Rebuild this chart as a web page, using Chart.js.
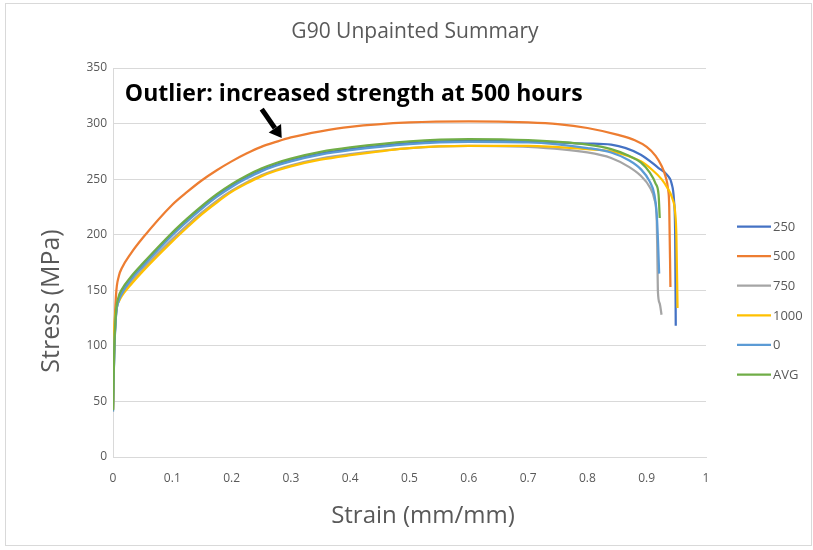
<!DOCTYPE html>
<html>
<head>
<meta charset="utf-8">
<script src="https://cdn.jsdelivr.net/npm/chart.js@4/dist/chart.umd.min.js"></script>
<style>
  html, body { margin: 0; padding: 0; background: #ffffff; }
  #wrap { position: relative; width: 813px; height: 550px; }
</style>
</head>
<body>
<div id="wrap"><canvas id="c" width="813" height="550"></canvas></div>
<script>
// ---------------- DATA ----------------
const seriesNames = ['250', '500', '750', '1000', '0', 'AVG'];
const seriesColors = ['#4472C4', '#ED7D31', '#A5A5A5', '#FFC000', '#5B9BD5', '#70AD47'];

const strain250 = [0, 0.002, 0.005, 0.01, 0.015, 0.03, 0.05, 0.1, 0.125, 0.15, 0.175, 0.2, 0.225, 0.25, 0.275, 0.3, 0.35, 0.4, 0.5, 0.6, 0.7, 0.8, 0.84, 0.89, 0.92, 0.934, 0.942, 0.946, 0.948, 0.949];
const stress250 = [42, 92, 127, 142, 148, 160, 172.5, 200.5, 213, 224.5, 235, 244, 251.5, 258, 263, 267, 273, 277, 282.5, 284.5, 284, 282, 281, 272, 260, 254, 246, 231, 200, 118];

const strain500 = [0, 0.002, 0.005, 0.01, 0.015, 0.03, 0.05, 0.1, 0.125, 0.15, 0.175, 0.2, 0.225, 0.25, 0.275, 0.3, 0.35, 0.4, 0.5, 0.6, 0.7, 0.75, 0.8, 0.85, 0.88, 0.9, 0.915, 0.925, 0.932, 0.936, 0.938, 0.94];
const stress500 = [42, 105, 145, 163, 170, 183, 197, 227, 238.5, 249, 258, 266, 273, 279, 283.5, 287.5, 293, 297, 301, 302, 301, 299.5, 296, 290, 285, 279, 271, 262, 252, 241, 225, 153];

const strain750 = [0, 0.002, 0.005, 0.01, 0.015, 0.03, 0.05, 0.1, 0.125, 0.15, 0.175, 0.2, 0.225, 0.25, 0.275, 0.3, 0.35, 0.4, 0.5, 0.6, 0.7, 0.8, 0.84, 0.87, 0.89, 0.905, 0.913, 0.917, 0.918, 0.919, 0.922, 0.925];
const stress750 = [41, 95, 128, 141, 147, 157, 169, 196, 208.5, 220, 230.5, 239.5, 247, 253.5, 258.5, 262.5, 268.5, 272.5, 278, 280, 279, 274, 269, 261, 253, 243, 232, 212, 180, 148, 138, 128];

const strain1000 = [0, 0.002, 0.005, 0.01, 0.015, 0.03, 0.05, 0.1, 0.125, 0.15, 0.175, 0.2, 0.225, 0.25, 0.275, 0.3, 0.35, 0.4, 0.5, 0.6, 0.7, 0.8, 0.84, 0.89, 0.91, 0.925, 0.935, 0.943, 0.948, 0.95, 0.952];
const stress1000 = [43, 110, 132, 140, 145, 155, 167, 194, 206.5, 218.5, 229, 238.5, 246, 252.5, 257.5, 261.5, 267.5, 271.5, 278, 280, 280, 277, 275, 266, 258, 250, 242, 233, 220, 200, 134];

const strain0 = [0, 0.002, 0.005, 0.01, 0.015, 0.03, 0.05, 0.1, 0.125, 0.15, 0.175, 0.2, 0.225, 0.25, 0.275, 0.3, 0.35, 0.4, 0.5, 0.6, 0.7, 0.8, 0.84, 0.87, 0.89, 0.905, 0.913, 0.917, 0.919, 0.921];
const stress0 = [41, 93, 127, 141, 147, 159.5, 171.5, 199.5, 212, 223.5, 234, 243, 250.5, 257, 262, 266, 272, 276, 281.5, 283.5, 283, 278, 274, 267, 259, 248, 236, 218, 195, 165];

const strainAvg = [0, 0.002, 0.005, 0.01, 0.015, 0.03, 0.05, 0.1, 0.125, 0.15, 0.175, 0.2, 0.225, 0.25, 0.275, 0.3, 0.35, 0.4, 0.5, 0.6, 0.7, 0.8, 0.84, 0.87, 0.89, 0.905, 0.915, 0.92, 0.922];
const stressAvg = [42, 95, 130, 145, 151, 162, 174, 202, 214.5, 226, 236.5, 245.5, 253, 259.5, 264.5, 268.5, 274.5, 278.5, 284, 286, 285, 281, 277, 271, 265, 256, 246, 236, 215];

const xTickLabels = ['0', '0.1', '0.2', '0.3', '0.4', '0.5', '0.6', '0.7', '0.8', '0.9', '1'];
const yTickLabels = ['0', '50', '100', '150', '200', '250', '300', '350'];
const xTickValues = [0, 0.1, 0.2, 0.3, 0.4, 0.5, 0.6, 0.7, 0.8, 0.9, 1];
const yTickValues = [0, 50, 100, 150, 200, 250, 300, 350];

const chartTitle = 'G90 Unpainted Summary';
const xTitle = 'Strain (mm/mm)';
const yTitle = 'Stress (MPa)';
const noteText = 'Outlier: increased strength at 500 hours';
// ---------------------------------------

const strains = [strain250, strain500, strain750, strain1000, strain0, strainAvg];
const stresses = [stress250, stress500, stress750, stress1000, stress0, stressAvg];

const FONT = "'Open Sans', 'Noto Sans', sans-serif";
const GRAY = '#595959';

const datasets = seriesNames.map((name, i) => ({
  label: name,
  data: strains[i].map((x, j) => ({ x: x, y: stresses[i][j] })),
  borderColor: seriesColors[i],
  backgroundColor: seriesColors[i],
  borderWidth: 2.25,
  pointRadius: 0,
  fill: false,
  cubicInterpolationMode: 'monotone',
  order: seriesNames.length - i
}));

const decor = {
  id: 'decor',
  beforeDraw(chart) {
    const ctx = chart.ctx;
    ctx.save();
    ctx.fillStyle = '#ffffff';
    ctx.fillRect(0, 0, chart.width, chart.height);
    ctx.strokeStyle = '#D9D9D9';
    ctx.lineWidth = 1;
    ctx.strokeRect(5.5, 3.5, 806, 542);
    ctx.restore();
  },
  afterDraw(chart) {
    const ctx = chart.ctx;
    const xs = chart.scales.x, ys = chart.scales.y;
    ctx.save();
    // chart title
    ctx.fillStyle = GRAY;
    ctx.textAlign = 'center';
    ctx.textBaseline = 'middle';
    ctx.font = '21px ' + FONT;
    ctx.fillText(chartTitle, 415, 32);
    // axis titles
    ctx.font = '24px ' + FONT;
    ctx.fillText(xTitle, 423, 516);
    ctx.save();
    ctx.translate(52, 301);
    ctx.rotate(-Math.PI / 2);
    ctx.font = '25px ' + FONT;
    ctx.fillText(yTitle, 0, 0);
    ctx.restore();
    // legend
    ctx.font = '13px ' + FONT;
    ctx.textBaseline = 'middle';
    ctx.textAlign = 'left';
    const legX = 737, legY0 = 226.5, legStep = 29.6;
    seriesNames.forEach((name, i) => {
      const y = legY0 + i * legStep;
      ctx.strokeStyle = seriesColors[i];
      ctx.lineWidth = 2.25;
      ctx.beginPath();
      ctx.moveTo(legX, y);
      ctx.lineTo(legX + 34, y);
      ctx.stroke();
      ctx.fillStyle = GRAY;
      ctx.fillText(name, legX + 36, y + 0.5);
    });
    // annotation text
    ctx.fillStyle = '#000000';
    ctx.font = 'bold 23px ' + FONT;
    ctx.textBaseline = 'middle';
    ctx.fillText(noteText, xs.getPixelForValue(0.02), ys.getPixelForValue(326));
    // arrow
    const tx = xs.getPixelForValue(0.2508), ty = ys.getPixelForValue(313);
    const hx = xs.getPixelForValue(0.2845), hy = ys.getPixelForValue(287);
    const ang = Math.atan2(hy - ty, hx - tx);
    const headLen = 12, headW = 7.5;
    const bx = hx - headLen * Math.cos(ang), by = hy - headLen * Math.sin(ang);
    ctx.strokeStyle = '#000000';
    ctx.lineWidth = 5;
    ctx.beginPath();
    ctx.moveTo(tx, ty);
    ctx.lineTo(bx, by);
    ctx.stroke();
    ctx.beginPath();
    ctx.moveTo(hx, hy);
    ctx.lineTo(bx + headW * Math.sin(ang), by - headW * Math.cos(ang));
    ctx.lineTo(bx - headW * Math.sin(ang), by + headW * Math.cos(ang));
    ctx.closePath();
    ctx.fillStyle = '#000000';
    ctx.fill();
    ctx.restore();
  }
};

new Chart(document.getElementById('c'), {
  type: 'line',
  data: { datasets: datasets },
  plugins: [decor],
  options: {
    responsive: false,
    animation: false,
    layout: { padding: { left: 0, right: 107, top: 68, bottom: 0 } },
    plugins: {
      legend: { display: false },
      tooltip: { enabled: false },
      title: { display: false }
    },
    scales: {
      x: {
        type: 'linear',
        min: 0, max: 1,
        afterFit(s) { s.height = 93; },
        afterBuildTicks(s) { s.ticks = xTickValues.map(v => ({ value: v })); },
        ticks: {
          color: GRAY,
          font: { family: FONT, size: 12 },
          padding: 14,
          maxRotation: 0,
          callback: (v, i) => xTickLabels[i]
        },
        grid: { display: false, drawTicks: false },
        border: { display: true, color: '#D9D9D9', width: 1 }
      },
      y: {
        type: 'linear',
        min: 0, max: 350,
        afterFit(s) { s.width = 113; },
        afterBuildTicks(s) { s.ticks = yTickValues.map(v => ({ value: v })); },
        ticks: {
          color: GRAY,
          font: { family: FONT, size: 12 },
          padding: 6,
          callback: (v, i) => yTickLabels[i]
        },
        grid: { color: '#D9D9D9', lineWidth: 1, drawTicks: false },
        border: { display: true, color: '#D9D9D9', width: 1 }
      }
    }
  }
});
</script>
</body>
</html>
